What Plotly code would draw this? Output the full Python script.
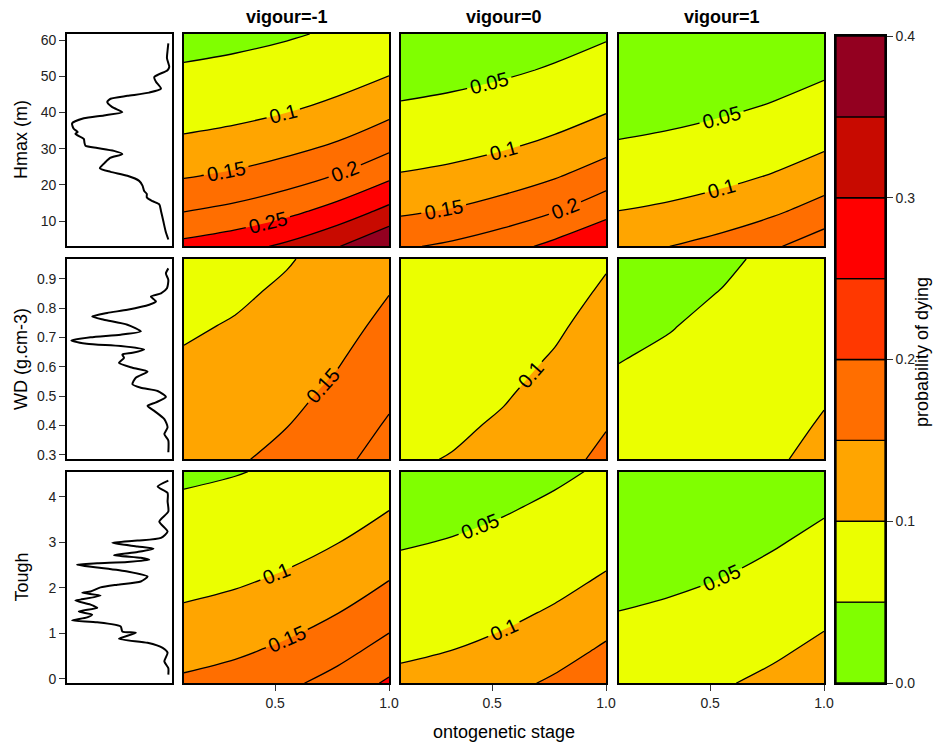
import plotly.graph_objects as go

# ---------------- data ----------------
STAGE = [0.1, 0.325, 0.55, 0.775, 1.0]
VIGOUR = ["vigour=-1", "vigour=0", "vigour=1"]

HMAX_GRID = [3.0, 12.75, 22.5, 32.25, 42.0, 51.75, 61.7]
WD_GRID = [0.285, 0.399, 0.512, 0.626, 0.740, 0.853, 0.968]
TOUGH_GRID = [-0.10, 0.677, 1.453, 2.230, 3.007, 3.783, 4.56]

# probability of dying (rows: trait grid bottom->top, columns: STAGE)
P_HMAX_VM1 = [[0.2643, 0.2820, 0.3092, 0.3475, 0.3980],
              [0.1987, 0.2133, 0.2361, 0.2688, 0.3134],
              [0.1463, 0.1577, 0.1759, 0.2026, 0.2397],
              [0.1058, 0.1145, 0.1284, 0.1493, 0.1787],
              [0.0755, 0.0820, 0.0923, 0.1080, 0.1306],
              [0.0534, 0.0580, 0.0657, 0.0772, 0.0940],
              [0.0375, 0.0408, 0.0462, 0.0546, 0.0668]]
P_HMAX_V0 = [[0.1941, 0.2085, 0.2308, 0.2631, 0.2990],
             [0.1426, 0.1538, 0.1717, 0.1977, 0.2343],
             [0.1031, 0.1115, 0.1252, 0.1456, 0.1745],
             [0.0735, 0.0798, 0.0899, 0.1052, 0.1273],
             [0.0519, 0.0564, 0.0639, 0.0751, 0.0914],
             [0.0364, 0.0397, 0.0450, 0.0531, 0.0650],
             [0.0254, 0.0277, 0.0315, 0.0373, 0.0458]]
P_HMAX_VP1 = [[0.1391, 0.1501, 0.1675, 0.1932, 0.2291],
              [0.1003, 0.1086, 0.1220, 0.1418, 0.1702],
              [0.0715, 0.0777, 0.0875, 0.1025, 0.1241],
              [0.0505, 0.0549, 0.0621, 0.0731, 0.0891],
              [0.0354, 0.0386, 0.0437, 0.0516, 0.0632],
              [0.0247, 0.0269, 0.0306, 0.0362, 0.0445],
              [0.0172, 0.0188, 0.0213, 0.0253, 0.0312]]

P_WD_VM1 = [[0.1342, 0.1449, 0.1619, 0.1869, 0.2220],
            [0.1232, 0.1332, 0.1491, 0.1725, 0.2055],
            [0.1131, 0.1224, 0.1372, 0.1591, 0.1901],
            [0.1037, 0.1122, 0.1260, 0.1464, 0.1755],
            [0.0949, 0.1029, 0.1156, 0.1346, 0.1618],
            [0.0868, 0.0941, 0.1059, 0.1236, 0.1490],
            [0.0794, 0.0861, 0.0970, 0.1133, 0.1369]]
P_WD_V0 = [[0.0941, 0.1020, 0.1147, 0.1335, 0.1606],
           [0.0861, 0.0934, 0.1051, 0.1226, 0.1478],
           [0.0788, 0.0855, 0.0963, 0.1125, 0.1360],
           [0.0720, 0.0782, 0.0881, 0.1031, 0.1249],
           [0.0657, 0.0713, 0.0806, 0.0944, 0.1146],
           [0.0599, 0.0651, 0.0736, 0.0864, 0.1050],
           [0.0546, 0.0594, 0.0671, 0.0790, 0.0961]]
P_WD_VP1 = [[0.0651, 0.0707, 0.0799, 0.0936, 0.1136],
            [0.0594, 0.0646, 0.0730, 0.0856, 0.1042],
            [0.0542, 0.0590, 0.0667, 0.0784, 0.0954],
            [0.0494, 0.0538, 0.0608, 0.0715, 0.0873],
            [0.0450, 0.0490, 0.0555, 0.0653, 0.0798],
            [0.0410, 0.0446, 0.0506, 0.0596, 0.0729],
            [0.0373, 0.0406, 0.0460, 0.0543, 0.0665]]

P_TOUGH_VM1 = [[0.1585, 0.1707, 0.1901, 0.2184, 0.2574],
               [0.1298, 0.1402, 0.1568, 0.1811, 0.2154],
               [0.1058, 0.1145, 0.1284, 0.1492, 0.1787],
               [0.0856, 0.0928, 0.1045, 0.1219, 0.1471],
               [0.0690, 0.0750, 0.0846, 0.0991, 0.1201],
               [0.0555, 0.0604, 0.0682, 0.0802, 0.0976],
               [0.0445, 0.0484, 0.0549, 0.0646, 0.0790]]
P_TOUGH_V0 = [[0.1121, 0.1213, 0.1360, 0.1577, 0.1886],
              [0.0909, 0.0986, 0.1108, 0.1291, 0.1554],
              [0.0735, 0.0798, 0.0898, 0.1052, 0.1273],
              [0.0591, 0.0642, 0.0726, 0.0852, 0.1036],
              [0.0473, 0.0516, 0.0583, 0.0686, 0.0838],
              [0.0379, 0.0413, 0.0468, 0.0552, 0.0676],
              [0.0303, 0.0330, 0.0375, 0.0442, 0.0543]]
P_TOUGH_VP1 = [[0.0781, 0.0847, 0.0954, 0.1115, 0.1348],
               [0.0628, 0.0682, 0.0771, 0.0904, 0.1098],
               [0.0505, 0.0549, 0.0621, 0.0730, 0.0890],
               [0.0404, 0.0440, 0.0498, 0.0587, 0.0719],
               [0.0322, 0.0352, 0.0399, 0.0471, 0.0578],
               [0.0257, 0.0281, 0.0318, 0.0377, 0.0463],
               [0.0205, 0.0224, 0.0254, 0.0301, 0.0371]]

# trait distributions (relative density, plotted leftwards)
HMAX_DENS_Y = [59.1, 57.2, 55.0, 52.6, 51.7, 49.8, 48.5, 46.6, 45.5, 44.6, 43.8, 42.9,
               41.5, 40.1, 39.2, 38.4, 37.0, 35.5, 34.6, 34.1, 32.7, 31.7, 30.8, 30.2,
               29.4, 28.5, 27.5, 26.3, 24.6, 23.6, 22.5, 21.1, 19.8, 18.3, 17.5, 16.5,
               15.5, 14.6, 12.8, 10.0, 7.2, 4.9]
HMAX_DENS = [0.035, 0.042, 0.048, 0.026, 0.042, 0.169, 0.153, 0.105, 0.217, 0.425, 0.585, 0.617,
             0.569, 0.473, 0.649, 0.840, 0.952, 0.936, 0.898, 0.920, 0.840, 0.834, 0.824, 0.712,
             0.553, 0.473, 0.585, 0.633, 0.687, 0.585, 0.425, 0.313, 0.281, 0.265, 0.240, 0.240,
             0.185, 0.121, 0.105, 0.083, 0.061, 0.035]

WD_DENS_Y = [0.936, 0.919, 0.897, 0.868, 0.851, 0.840, 0.823, 0.812, 0.795, 0.784, 0.772, 0.761,
             0.744, 0.721, 0.710, 0.701, 0.690, 0.679, 0.671, 0.659, 0.648, 0.642, 0.631, 0.614,
             0.597, 0.584, 0.563, 0.541, 0.529, 0.518, 0.498, 0.479, 0.467, 0.450, 0.422, 0.394,
             0.371, 0.349, 0.309]
WD_DENS = [0.035, 0.058, 0.035, 0.048, 0.105, 0.201, 0.153, 0.217, 0.425, 0.617, 0.760, 0.649,
           0.425, 0.297, 0.489, 0.776, 0.958, 0.812, 0.489, 0.265, 0.377, 0.473, 0.457, 0.505,
           0.377, 0.233, 0.345, 0.377, 0.297, 0.137, 0.058, 0.153, 0.233, 0.169, 0.073, 0.042,
           0.073, 0.035, 0.035]

TOUGH_DENS_Y = [4.36, 4.23, 4.09, 3.90, 3.68, 3.46, 3.24, 3.10, 3.04, 2.99, 2.91, 2.86, 2.79,
                2.72, 2.66, 2.62, 2.57, 2.54, 2.51, 2.45, 2.36, 2.25, 2.14, 2.07, 2.01, 1.92,
                1.89, 1.83, 1.74, 1.72, 1.63, 1.56, 1.48, 1.41, 1.35, 1.28, 1.24, 1.15, 1.04,
                1.01, 0.88, 0.79, 0.68, 0.57, 0.38, 0.23, 0.09]
TOUGH_DENS = [0.035, 0.137, 0.042, 0.042, 0.035, 0.121, 0.042, 0.105, 0.329, 0.569, 0.329, 0.176,
              0.329, 0.553, 0.297, 0.217, 0.425, 0.712, 0.904, 0.712, 0.425, 0.233, 0.297, 0.521,
              0.681, 0.776, 0.856, 0.681, 0.872, 0.920, 0.776, 0.712, 0.888, 0.760, 0.808, 0.952,
              0.712, 0.489, 0.473, 0.345, 0.505, 0.233, 0.089, 0.042, 0.073, 0.035, 0.035]

LEVELS = [0.0, 0.05, 0.10, 0.15, 0.20, 0.25, 0.30, 0.35, 0.40]
LEVEL_COLORS = ["#80FF00", "#EBFF00", "#FFA500", "#FF6E00", "#FF3800", "#FF0000", "#C80A00", "#930020"]

ROW_TITLES = ["Hmax (m)", "WD (g.cm-3)", "Tough"]
ROW_TICKS = [[10, 20, 30, 40, 50, 60],
             [0.3, 0.4, 0.5, 0.6, 0.7, 0.8, 0.9],
             [0, 1, 2, 3, 4]]
ROW_TICKTEXT = [["10", "20", "30", "40", "50", "60"],
                ["0.3", "0.4", "0.5", "0.6", "0.7", "0.8", "0.9"],
                ["0", "1", "2", "3", "4"]]
ROW_RANGES = [[3.1, 61.7], [0.286, 0.968], [-0.095, 4.55]]
STAGE_TICKS = [0.5, 1.0]
STAGE_TICKTEXT = ["0.5", "1.0"]
CBAR_TICKS = [0.0, 0.1, 0.2, 0.3, 0.4]
CBAR_TICKTEXT = ["0.0", "0.1", "0.2", "0.3", "0.4"]

ROWS = [
    (HMAX_GRID, [P_HMAX_VM1, P_HMAX_V0, P_HMAX_VP1], HMAX_DENS_Y, HMAX_DENS),
    (WD_GRID, [P_WD_VM1, P_WD_V0, P_WD_VP1], WD_DENS_Y, WD_DENS),
    (TOUGH_GRID, [P_TOUGH_VM1, P_TOUGH_V0, P_TOUGH_VP1], TOUGH_DENS_Y, TOUGH_DENS),
]

# ---------------- layout geometry (pixels) ----------------
W, H = 946, 747
FONT = "Liberation Sans, Arial, Helvetica, sans-serif"
COL_PX = [(67, 172), (184, 389), (401, 606), (619, 824)]
ROW_PX = [(34, 246), (259, 459), (472, 683)]
CBAR_PX = (836, 885, 36, 683)


def xdom(a, b):
    return [a / W, b / W]


def ydom(top, bottom):
    return [1 - bottom / H, 1 - top / H]


# stepwise colour scale aligned with plotly's fill colour map (7 levels 0.05..0.35)
cs = []
for k in range(7):
    c = LEVEL_COLORS[k]
    lo = k / 7
    hi = (k + 1) / 7 if k < 6 else 0.99
    cs += [[lo, c], [hi, c]]
cs += [[0.99, LEVEL_COLORS[7]], [1.0, LEVEL_COLORS[7]]]

fig = go.Figure()
layout = {}
axis_line = dict(showline=True, mirror=True, linecolor="black", linewidth=1.6,
                 showgrid=False, zeroline=False, automargin=False)
tickfont = dict(family=FONT, size=14, color="#222")

for r, (grid, panels, dy, dv) in enumerate(ROWS):
    for c in range(4):
        idx = r * 4 + c + 1
        xa = "x" if idx == 1 else f"x{idx}"
        ya = "y" if idx == 1 else f"y{idx}"
        xkey = "xaxis" if idx == 1 else f"xaxis{idx}"
        ykey = "yaxis" if idx == 1 else f"yaxis{idx}"
        if c == 0:
            fig.add_trace(go.Scatter(x=dv, y=dy, mode="lines", xaxis=xa, yaxis=ya,
                                     line=dict(color="black", width=2, shape="spline", smoothing=0.6),
                                     showlegend=False, hoverinfo="skip"))
            layout[xkey] = dict(domain=xdom(*COL_PX[0]), anchor=ya, range=[1.0, 0.0],
                                showticklabels=False, ticks="", **axis_line)
            layout[ykey] = dict(domain=ydom(*ROW_PX[r]), anchor=xa, range=ROW_RANGES[r],
                                tickvals=ROW_TICKS[r], ticktext=ROW_TICKTEXT[r], ticks="outside",
                                ticklen=6, tickwidth=1, tickcolor="#333",
                                tickfont=tickfont, **axis_line)
        else:
            fig.add_trace(go.Contour(
                x=STAGE, y=grid, z=panels[c - 1], xaxis=xa, yaxis=ya,
                autocontour=False,
                contours=dict(start=0.05, end=0.35, size=0.05, coloring="fill",
                              showlabels=True,
                              labelfont=dict(family=FONT, size=20, color="black")),
                line=dict(color="black", width=1.3, smoothing=1.0),
                colorscale=cs, showscale=False, hoverinfo="skip"))
            xd = dict(domain=xdom(*COL_PX[c]), anchor=ya, range=[0.1, 1.0], **axis_line)
            if r == 2:
                xd.update(tickvals=STAGE_TICKS, ticktext=STAGE_TICKTEXT, ticks="outside",
                          ticklen=6, tickwidth=1, tickcolor="#333", tickfont=tickfont)
            else:
                xd.update(showticklabels=False, ticks="")
            layout[xkey] = xd
            layout[ykey] = dict(domain=ydom(*ROW_PX[r]), anchor=xa, range=ROW_RANGES[r],
                                showticklabels=False, ticks="", **axis_line)

# colour bar drawn as stacked blocks
band_heights = [LEVELS[i + 1] - LEVELS[i] for i in range(len(LEVELS) - 1)]
fig.add_trace(go.Bar(x=[0] * len(band_heights), y=band_heights, base=LEVELS[:-1], width=1.0,
                     marker=dict(color=LEVEL_COLORS, line=dict(color="black", width=1.3)),
                     xaxis="x13", yaxis="y13", showlegend=False, hoverinfo="skip"))
layout["xaxis13"] = dict(domain=xdom(CBAR_PX[0], CBAR_PX[1]), anchor="y13", range=[-0.5, 0.5],
                         showticklabels=False, ticks="", **axis_line)
layout["yaxis13"] = dict(domain=ydom(CBAR_PX[2], CBAR_PX[3]), anchor="x13", range=[0, 0.4],
                         side="right", tickvals=CBAR_TICKS, ticktext=CBAR_TICKTEXT,
                         ticks="outside", ticklen=6, tickwidth=1, tickcolor="#333",
                         tickfont=tickfont, **axis_line)

ann = []
for c, t in enumerate(VIGOUR):
    x0, x1 = COL_PX[c + 1]
    ann.append(dict(text=f"<b>{t}</b>", x=(x0 + x1) / 2 / W, y=1 - 17 / H, xref="paper", yref="paper",
                    showarrow=False, font=dict(family=FONT, size=18, color="black"),
                    xanchor="center", yanchor="middle"))
for r, t in enumerate(ROW_TITLES):
    top, bot = ROW_PX[r]
    ann.append(dict(text=t, x=21 / W, y=1 - (top + bot) / 2 / H, xref="paper", yref="paper",
                    showarrow=False, textangle=-90, font=dict(family=FONT, size=18, color="black"),
                    xanchor="center", yanchor="middle"))
ann.append(dict(text="ontogenetic stage", x=(COL_PX[1][0] + COL_PX[3][1]) / 2 / W, y=1 - 732 / H,
                xref="paper", yref="paper", showarrow=False,
                font=dict(family=FONT, size=18, color="black"), xanchor="center", yanchor="middle"))
ann.append(dict(text="probability of dying", x=922 / W, y=1 - 352 / H, xref="paper", yref="paper",
                showarrow=False, textangle=-90, font=dict(family=FONT, size=18, color="black"),
                xanchor="center", yanchor="middle"))

fig.update_layout(template="none", width=W, height=H, margin=dict(l=0, r=0, t=0, b=0, pad=0),
                  paper_bgcolor="white", plot_bgcolor="white", showlegend=False,
                  annotations=ann, font=dict(family=FONT), **layout)

fig.write_html("out.html", config={"displayModeBar": False},
               post_script="document.body.style.margin='0px';document.body.style.padding='0px';")
